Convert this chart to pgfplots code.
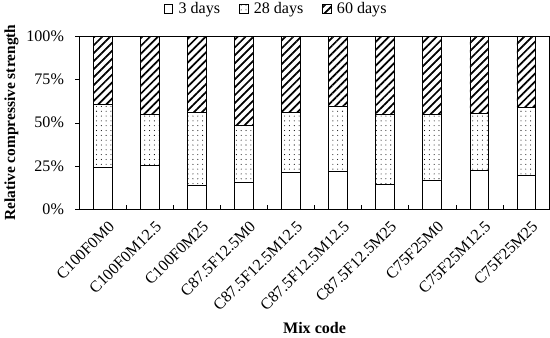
\documentclass[border=0pt]{standalone}
\usepackage{pgfplots}
\pgfplotsset{compat=1.18}
\usepackage{fontspec}
\setmainfont{Liberation Serif}
\usetikzlibrary{patterns.meta}
\begin{document}
\begin{tikzpicture}
\begin{axis}[
  scale only axis,
  width=351pt, height=129pt,
  ybar stacked,
  bar width=0.4,
  xmin=-0.5, xmax=9.5,
  ymin=0, ymax=100,
  xtick={0,...,9},
  xticklabels={C100F0M0,C100F0M12.5,C100F0M25,C87.5F12.5M0,C87.5F12.5M12.5,C87.5F12.5M12.5,C87.5F12.5M25,C75F25M0,C75F25M12.5,C75F25M25},
  x tick label style={rotate=45, anchor=north east, inner sep=1pt, yshift=-5pt, font=\fontsize{12}{14}\selectfont},
  xtick style={draw=none},
  xtick pos=bottom, ytick pos=left,
  extra x ticks={0.5,1.5,...,8.5},
  extra x tick labels={},
  extra x tick style={xtick style={draw=black}, major tick length=3pt, tick align=inside},
  ytick={0,25,50,75,100},
  yticklabels={0\%,25\%,50\%,75\%,100\%},
  y tick label style={font=\fontsize{12}{14}\selectfont, xshift=-5pt},
  tick align=outside,
  major tick length=3pt,
  ytick style={black},
  axis line style={black},
  ylabel={\textbf{Relative compressive strength}},
  ylabel style={font=\fontsize{11.5}{13}\selectfont, yshift=-1pt},
  xlabel={\textbf{Mix code}},
  xlabel style={font=\fontsize{12}{14}\selectfont, yshift=0pt},
  legend style={at={(0.419,1.0)}, yshift=13pt, anchor=south, draw=none, legend columns=3, font=\fontsize{12}{14}\selectfont, column sep=2pt, inner sep=0pt,
    /tikz/every even column/.append style={column sep=12pt}},
  legend image code/.code={\draw[#1, line width=0.6pt] (0pt,-3pt) rectangle (6.5pt,3.5pt);},
]
\addplot[draw=black, fill=white] coordinates {(0,24.0) (1,25.4) (2,14.0) (3,15.7) (4,21.3) (5,22.1) (6,14.5) (7,16.9) (8,22.5) (9,19.4)};
\addplot[draw=black, pattern={Dots[distance=3.6pt, radius=0.4pt]}] coordinates {(0,36.5) (1,29.6) (2,42.0) (3,32.6) (4,34.7) (5,37.2) (6,40.2) (7,37.9) (8,32.9) (9,39.7)};
\addplot[draw=black, pattern={Lines[angle=45, distance=4.2pt, line width=1.3pt]}] coordinates {(0,39.5) (1,45.0) (2,44.0) (3,51.7) (4,44.0) (5,40.7) (6,45.3) (7,45.2) (8,44.6) (9,40.9)};
\legend{3 days,28 days,60 days}
\end{axis}
\end{tikzpicture}
\end{document}
